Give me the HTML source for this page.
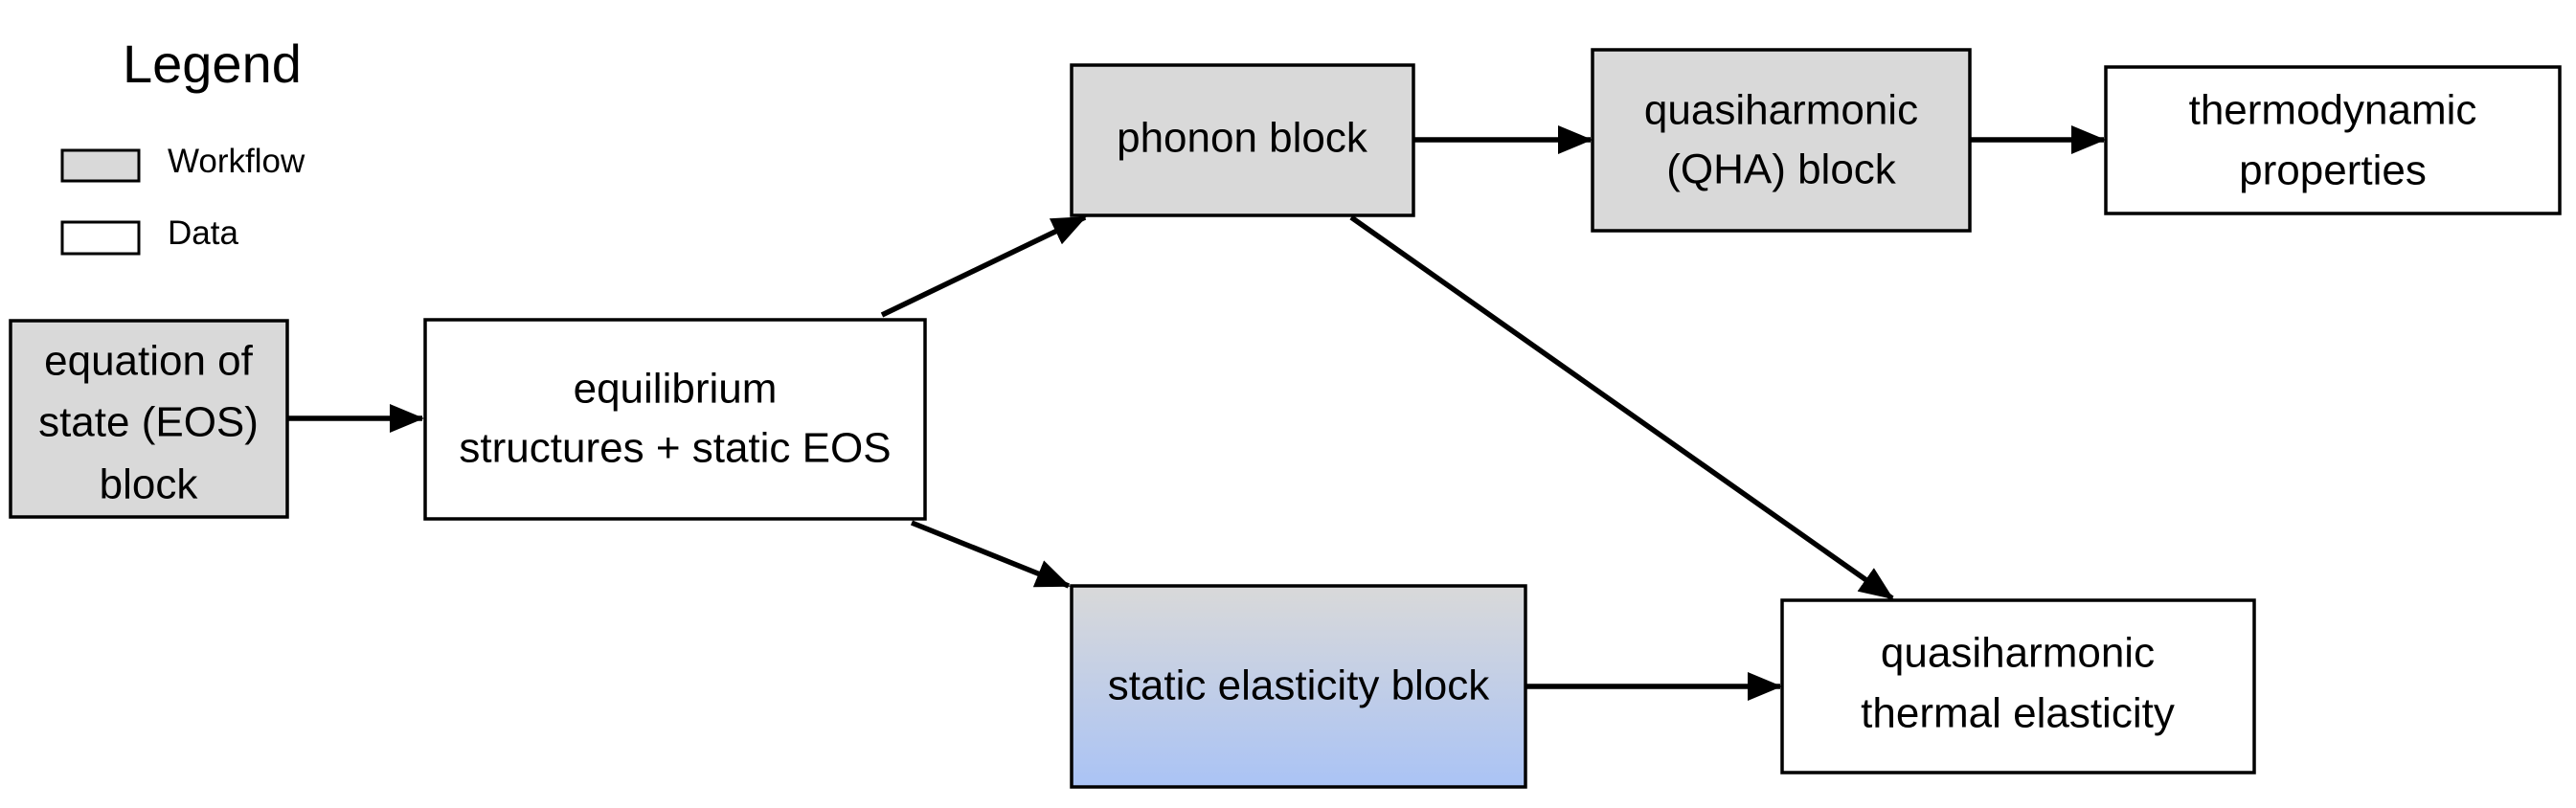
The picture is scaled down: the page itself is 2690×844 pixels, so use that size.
<!DOCTYPE html>
<html><head><meta charset="utf-8"><style>
html,body{margin:0;padding:0;background:#fff;}
svg{display:block;}
text{font-family:"Liberation Sans",sans-serif;fill:#000;}
</style></head><body>
<svg width="2690" height="844" viewBox="0 0 2690 844" xmlns="http://www.w3.org/2000/svg">
<defs>
<marker id="ah" markerUnits="userSpaceOnUse" markerWidth="36" markerHeight="30" refX="34" refY="15" orient="auto">
<path d="M0,0 L36,15 L0,30 Z" fill="#000"/>
</marker>
<linearGradient id="g" x1="0" y1="0" x2="0" y2="1">
<stop offset="0" stop-color="#d9d9d9"/>
<stop offset="1" stop-color="#aac3f5"/>
</linearGradient>
</defs>
<text x="128" y="86" font-size="56">Legend</text>
<rect x="65" y="157" width="80" height="32" fill="#d9d9d9" stroke="#000" stroke-width="3"/>
<rect x="65" y="232" width="80" height="33" fill="#fff" stroke="#000" stroke-width="3"/>
<text x="175" y="180" font-size="35">Workflow</text>
<text x="175" y="255" font-size="35">Data</text>

<g stroke="#000" stroke-width="3.5">
<rect x="11" y="335" width="289" height="205" fill="#d9d9d9"/>
<rect x="444" y="334" width="522" height="208" fill="#fff"/>
<rect x="1119" y="68" width="357" height="157" fill="#d9d9d9"/>
<rect x="1663" y="52" width="394" height="189" fill="#d9d9d9"/>
<rect x="2199" y="70" width="474" height="153" fill="#fff"/>
<rect x="1119" y="612" width="474" height="210" fill="url(#g)"/>
<rect x="1861" y="627" width="493" height="180" fill="#fff"/>
</g>

<g stroke="#000" stroke-width="5.5" marker-end="url(#ah)">
<line x1="300" y1="437" x2="441" y2="437"/>
<line x1="921" y1="329" x2="1133" y2="227"/>
<line x1="952" y1="546" x2="1116" y2="612"/>
<line x1="1476" y1="146" x2="1661" y2="146"/>
<line x1="2057" y1="146" x2="2197" y2="146"/>
<line x1="1411" y1="227" x2="1976" y2="625"/>
<line x1="1593" y1="717" x2="1859" y2="717"/>
</g>

<g font-size="44" text-anchor="middle" dominant-baseline="central">
<text x="155" y="377">equation of</text>
<text x="155" y="441">state (EOS)</text>
<text x="155" y="506">block</text>
<text x="705" y="406">equilibrium</text>
<text x="705" y="468">structures + static EOS</text>
<text x="1297" y="144">phonon block</text>
<text x="1860" y="115">quasiharmonic</text>
<text x="1860" y="177">(QHA) block</text>
<text x="2436" y="115">thermodynamic</text>
<text x="2436" y="178">properties</text>
<text x="1356" y="716">static elasticity block</text>
<text x="2107" y="682">quasiharmonic</text>
<text x="2107" y="745">thermal elasticity</text>
</g>
</svg>
</body></html>
